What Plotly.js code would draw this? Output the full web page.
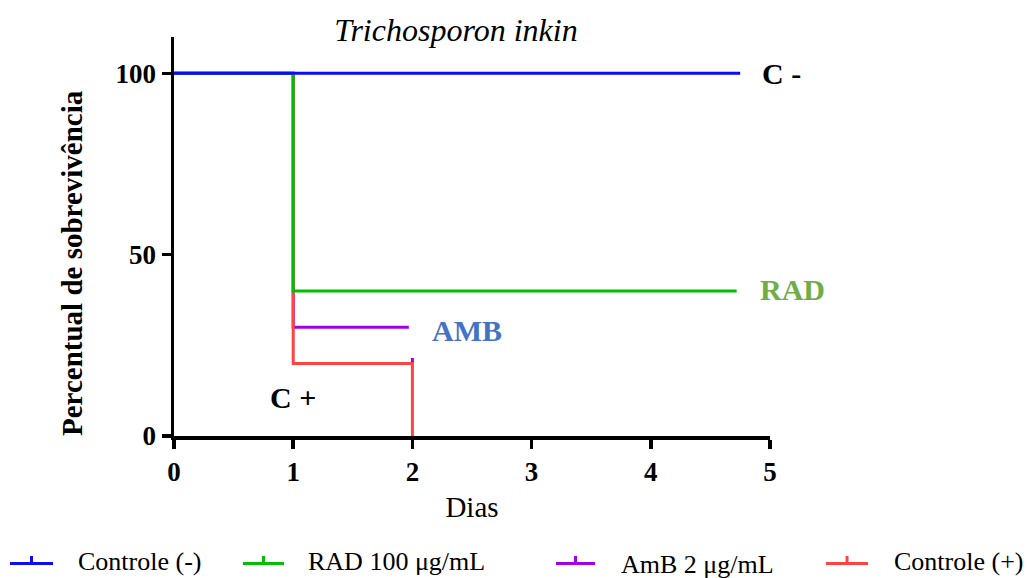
<!DOCTYPE html>
<html>
<head>
<meta charset="utf-8">
<script src="https://cdn.plot.ly/plotly-3.0.1.min.js"></script>
<style>html,body{margin:0;padding:0;background:#fff;}#chart{width:1029px;height:578px;}</style>
</head>
<body>
<div id="chart"></div>
<script>
// ---- data ----
const seriesNames = ["Controle (-)", "RAD 100 μg/mL", "AmB 2 μg/mL", "Controle (+)"];
const ctrlNegX = [0, 4.75];
const ctrlNegY = [100, 100];
const radX = [0, 1, 1, 4.72];
const radY = [100, 100, 40, 40];
const ambX = [0, 1, 1, 1.97, null, 2, 2];
const ambY = [100, 100, 30, 30, null, 21.5, 20];
const ctrlPosX = [0, 1, 1, 2, 2];
const ctrlPosY = [100, 100, 20, 20, 0];
const xTicks = [0, 1, 2, 3, 4, 5];
const yTicks = [0, 50, 100];
const groupLabels = ["C -", "RAD", "AMB", "C +"];
const groupLabelX = [5.1, 5.19, 2.46, 1.0];
const groupLabelY = [100, 40.5, 29.2, 10.5];

// ---- style ----
const colors = ["#0a0aff", "#00bf00", "#a100e6", "#ff4444"];
const labelColors = ["#000000", "#70ad47", "#4472c4", "#000000"];
const FONT = "Liberation Serif";

const W = 1029, H = 578;
const L = 174, R = 770, T = 37, B = 436;
const px = v => (v - L) / (R - L);
const py = v => (B - v) / (B - T);
const dx = v => v / 5;       // data x (range 0..5) -> paper
const dy = v => v / 110;     // data y (range 0..110) -> paper

function tr(x, y, i) {
  return {x: x, y: y, type: "scatter", mode: "lines", name: seriesNames[i],
    line: {color: colors[i], width: 3}, showlegend: false, hoverinfo: "skip"};
}
const data = [
  tr(ambX, ambY, 2),
  tr(ctrlPosX, ctrlPosY, 3),
  tr(radX, radY, 1),
  tr(ctrlNegX, ctrlNegY, 0)
];

const annotations = [];
const shapes = [];
groupLabels.forEach((t, i) => {
  annotations.push({x: dx(groupLabelX[i]), y: dy(groupLabelY[i]), xref: "paper", yref: "paper",
    text: "<b>" + t + "</b>", showarrow: false, xanchor: "center", yanchor: "middle",
    font: {family: FONT, size: 30, color: labelColors[i]}});
});
// y-axis title
annotations.push({x: px(72), y: py(263), xref: "paper", yref: "paper",
  text: "<b>Percentual de sobrevivência</b>", textangle: -90, showarrow: false,
  xanchor: "center", yanchor: "middle",
  font: {family: FONT, size: 29, color: "#000"}});

// manual legend
const legSym = [[10, 53], [243, 284], [556, 595], [826, 868]];
const legText = [76, 306, 619, 892];
const legTextY = [561, 561, 564, 561];
const legLineY = 563.5, legTickTop = 556;
seriesNames.forEach((n, i) => {
  const c = (legSym[i][0] + legSym[i][1]) / 2;
  shapes.push({type: "line", xref: "paper", yref: "paper",
    x0: px(legSym[i][0]), x1: px(legSym[i][1]), y0: py(legLineY), y1: py(legLineY),
    line: {color: colors[i], width: 3}});
  shapes.push({type: "line", xref: "paper", yref: "paper",
    x0: px(c), x1: px(c), y0: py(legTickTop), y1: py(legLineY),
    line: {color: colors[i], width: 3}});
  annotations.push({x: px(legText[i]), y: py(legTextY[i]), xref: "paper", yref: "paper",
    text: n, showarrow: false, xanchor: "left", yanchor: "middle",
    font: {family: FONT, size: 26, color: "#000"}});
});

const layout = {
  width: W, height: H,
  margin: {l: L, r: W - R, t: T, b: H - B, pad: 0},
  paper_bgcolor: "#fff", plot_bgcolor: "#fff",
  showlegend: false,
  font: {family: FONT, color: "#000"},
  title: {text: "<i>Trichosporon inkin</i>", x: 456 / W, xref: "container", xanchor: "center",
    y: 1 - 30 / H, yref: "container", yanchor: "middle",
    font: {family: FONT, size: 32, color: "#000"}},
  xaxis: {range: [0, 5], tickvals: xTicks, ticktext: xTicks.map(v => "<b>" + v + "</b>"),
    showgrid: false, zeroline: false, showline: true, linecolor: "#000", linewidth: 3.5,
    ticks: "outside", ticklen: 9, tickwidth: 3.5, tickcolor: "#000",
    tickfont: {family: FONT, size: 27, color: "#000"},
    title: {text: "Dias", standoff: 12, font: {family: FONT, size: 29, color: "#000"}}},
  yaxis: {range: [0, 110], tickvals: yTicks, ticktext: yTicks.map(v => "<b>" + v + "</b>"),
    showgrid: false, zeroline: false, showline: true, linecolor: "#000", linewidth: 3.5,
    ticks: "outside", ticklen: 9, tickwidth: 3.5, tickcolor: "#000",
    tickfont: {family: FONT, size: 27, color: "#000"}},
  annotations: annotations,
  shapes: shapes
};

Plotly.newPlot("chart", data, layout, {displayModeBar: false, staticPlot: true});
</script>
</body>
</html>
